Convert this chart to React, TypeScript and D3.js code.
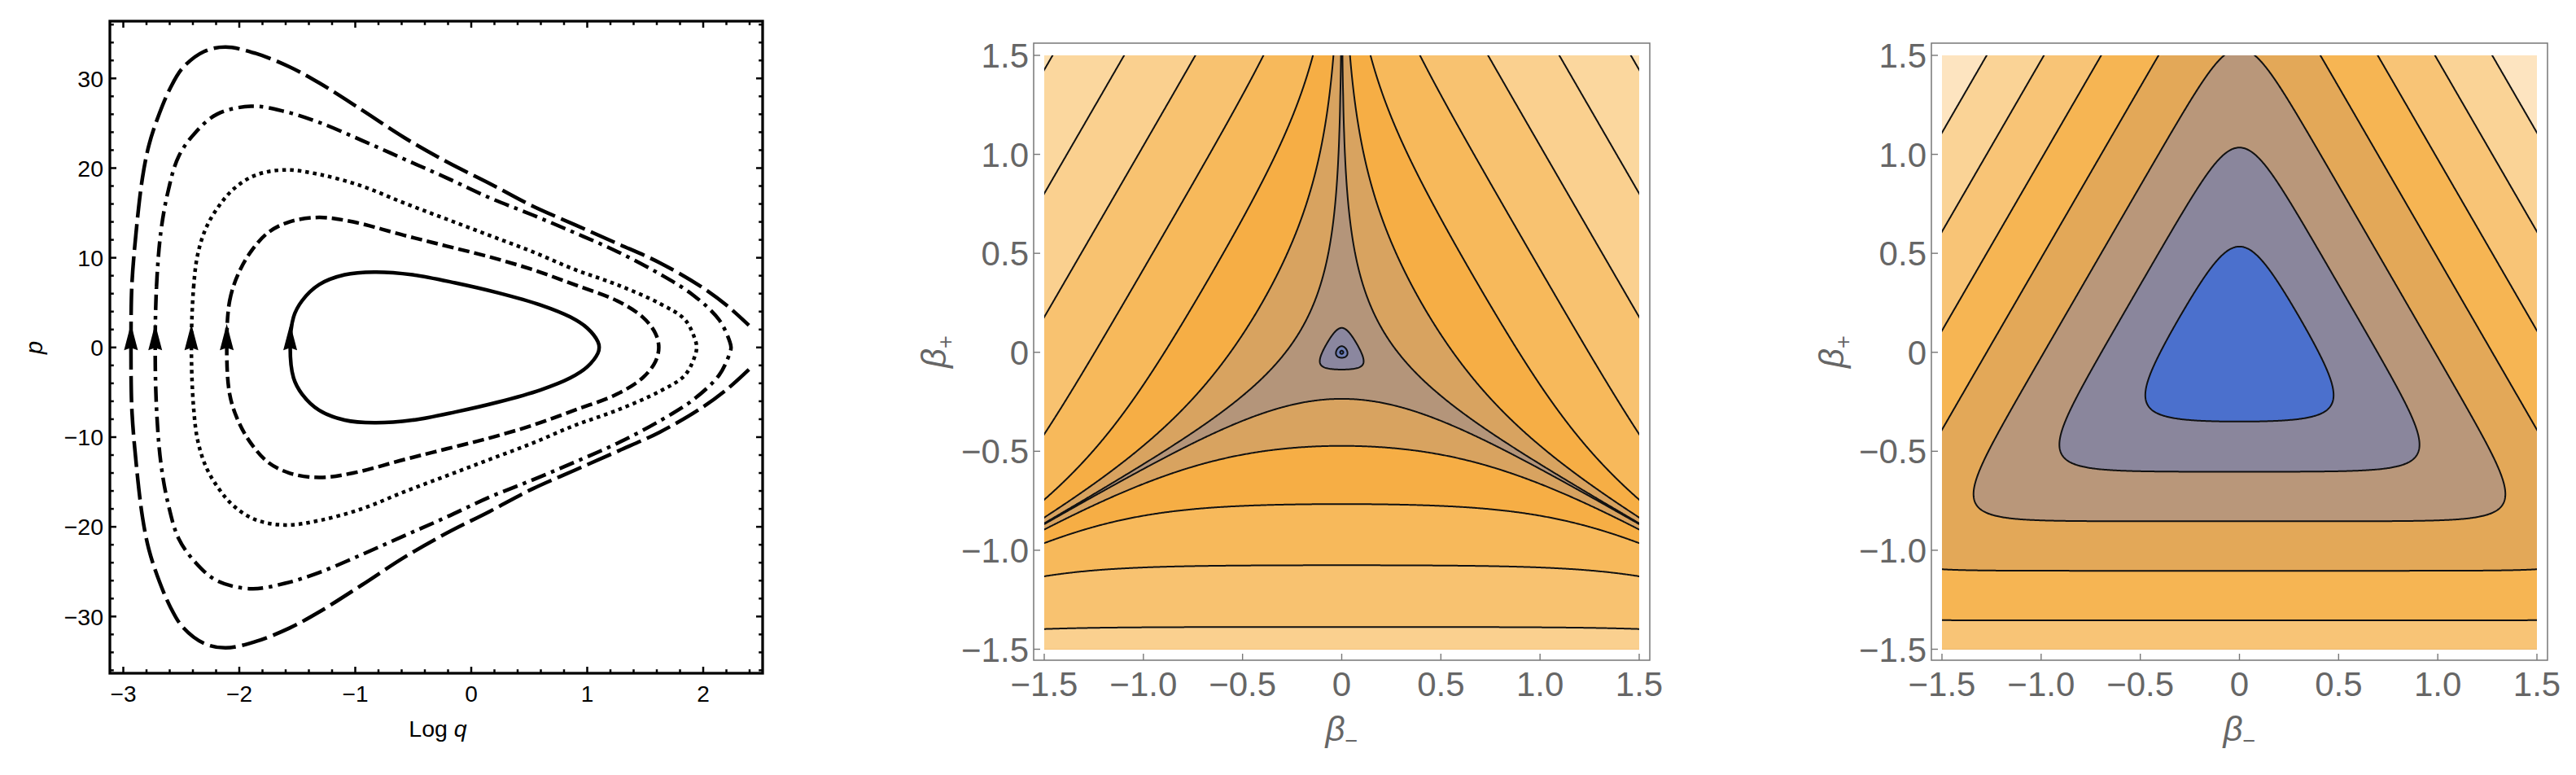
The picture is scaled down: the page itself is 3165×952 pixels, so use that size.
import React, { useMemo } from "react";
import * as d3 from "d3";

type Pt = [number, number];

// ---------- Panel 1: phase-space orbits (Log q, p) ----------
const longDashUpper: Pt[] = [
  [-2.934, 0], [-2.927, 6.7], [-2.89, 12.8], [-2.835, 18.9], [-2.78, 22.5], [-2.706, 25.5],
  [-2.596, 28.9], [-2.486, 31.2], [-2.303, 33.0], [-2.119, 33.5], [-1.862, 32.8], [-1.569, 31.3],
  [-1.312, 29.5], [-0.945, 26.5], [-0.578, 23.4], [-0.211, 20.7], [0.156, 18.3], [0.523, 15.8],
  [0.89, 13.7], [1.257, 11.6], [1.624, 9.45], [1.991, 6.7], [2.211, 4.6], [2.394, 2.46],
];
const longDashLower: Pt[] = [
  [2.394, -2.46], [2.211, -4.6], [1.991, -6.7], [1.624, -9.45], [1.257, -11.6], [0.89, -13.7],
  [0.523, -15.8], [0.156, -18.3], [-0.211, -20.7], [-0.578, -23.4], [-0.945, -26.5], [-1.312, -29.5],
  [-1.569, -31.3], [-1.862, -32.8], [-2.119, -33.5], [-2.303, -33.0], [-2.486, -31.2], [-2.596, -28.9],
  [-2.706, -25.5], [-2.78, -22.5], [-2.835, -18.9], [-2.89, -12.8], [-2.927, -6.7], [-2.934, 0],
];
const dotDashUpper: Pt[] = [
  [-2.725, 0], [-2.714, 6.7], [-2.677, 12.8], [-2.615, 17.35], [-2.523, 21.3], [-2.376, 24.0],
  [-2.193, 26.0], [-1.899, 26.9], [-1.606, 26.3], [-1.312, 25.1], [-0.945, 23.1], [-0.578, 21.0],
  [-0.211, 18.9], [0.156, 16.7], [0.523, 14.8], [0.89, 12.8], [1.257, 10.7], [1.624, 8.2],
  [1.917, 5.8], [2.138, 3.07], [2.229, 0.64], [2.24, 0],
];
const dotDashLower: Pt[] = [
  [2.229, -0.64], [2.138, -3.07], [1.917, -5.8], [1.624, -8.2], [1.257, -10.7], [0.89, -12.8],
  [0.523, -14.8], [0.156, -16.7], [-0.211, -18.9], [-0.578, -21.0], [-0.945, -23.1], [-1.312, -25.1],
  [-1.606, -26.3], [-1.899, -26.9], [-2.193, -26.0], [-2.376, -24.0], [-2.523, -21.3], [-2.615, -17.35],
  [-2.677, -12.8], [-2.714, -6.7],
];
const dottedUpper: Pt[] = [
  [-2.413, 0], [-2.394, 6.7], [-2.358, 10.4], [-2.284, 13.4], [-2.174, 15.8], [-2.046, 17.7],
  [-1.862, 19.2], [-1.606, 19.8], [-1.312, 19.3], [-0.945, 18.0], [-0.578, 16.1], [-0.211, 14.3],
  [0.156, 12.5], [0.523, 10.7], [0.89, 8.7], [1.257, 7.0], [1.624, 4.9], [1.844, 3.07],
  [1.936, 0.64], [1.943, 0],
];
const dottedLower: Pt[] = [
  [1.936, -0.64], [1.844, -3.07], [1.624, -4.9], [1.257, -7.0], [0.89, -8.7], [0.523, -10.7],
  [0.156, -12.5], [-0.211, -14.3], [-0.578, -16.1], [-0.945, -18.0], [-1.312, -19.3], [-1.606, -19.8],
  [-1.862, -19.2], [-2.046, -17.7], [-2.174, -15.8], [-2.284, -13.4], [-2.358, -10.4], [-2.394, -6.7],
];
const dashedUpper: Pt[] = [
  [-2.108, 0], [-2.083, 5.2], [-2.009, 8.2], [-1.899, 10.7], [-1.752, 12.8], [-1.569, 14.0],
  [-1.312, 14.5], [-1.018, 14.0], [-0.578, 12.5], [-0.211, 11.3], [0.156, 10.1], [0.523, 8.7],
  [0.89, 7.0], [1.257, 5.2], [1.477, 3.4], [1.587, 1.6], [1.617, 0],
];
const dashedLower: Pt[] = [
  [1.587, -1.6], [1.477, -3.4], [1.257, -5.2], [0.89, -7.0], [0.523, -8.7], [0.156, -10.1],
  [-0.211, -11.3], [-0.578, -12.5], [-1.018, -14.0], [-1.312, -14.5], [-1.569, -14.0], [-1.752, -12.8],
  [-1.899, -10.7], [-2.009, -8.2], [-2.083, -5.2],
];
const solidUpper: Pt[] = [
  [-1.561, 0], [-1.532, 3.4], [-1.459, 5.2], [-1.312, 7.0], [-1.092, 8.1], [-0.835, 8.4],
  [-0.505, 8.1], [-0.138, 7.2], [0.229, 6.1], [0.596, 4.74], [0.853, 3.4], [1.0, 2.16],
  [1.092, 0.64], [1.103, 0],
];
const solidLower: Pt[] = [
  [1.092, -0.64], [1.0, -2.16], [0.853, -3.4], [0.596, -4.74], [0.229, -6.1], [-0.138, -7.2],
  [-0.505, -8.1], [-0.835, -8.4], [-1.092, -8.1], [-1.312, -7.0], [-1.459, -5.2], [-1.532, -3.4],
];

const logQTicks = [-3, -2, -1, 0, 1, 2];
const pTicks = [-30, -20, -10, 0, 10, 20, 30];

// ---------- Panels 2 & 3: contour plots over (beta-, beta+) ----------
const betaTicks = [-1.5, -1, -0.5, 0, 0.5, 1, 1.5];
const betaTickLabels = ["\u22121.5", "\u22121.0", "\u22120.5", "0", "0.5", "1.0", "1.5"];

// contour levels of log(V + 3) (full potential) and log(V_walls)
const mixmasterLevels = [-6.4, -3.9, -1.4, 1.15, 3.6, 6.1, 8.6, 11.1, 13.6, 16.1];
const wallLevels = [2.83, 4.83, 6.83, 8.83, 10.83, 12.83, 14.83];

const mixmasterColors = [
  "#4c6fcb", "#6f7fb6", "#8b879f", "#b4957a", "#d8a360", "#f6ae45",
  "#f7b95b", "#f8c270", "#fad08f", "#fbd79e", "#fde0b1",
];
const wallColors = ["#4b70cd", "#8a869c", "#b9977a", "#e3a858", "#f6b553", "#f8c476", "#fad396", "#fde4c0"];

const SQ3 = Math.sqrt(3);
function mixmasterField(bm: number, bp: number) {
  const v =
    Math.exp(-8 * bp) -
    4 * Math.exp(-2 * bp) * Math.cosh(2 * SQ3 * bm) +
    2 * Math.exp(4 * bp) * (Math.cosh(4 * SQ3 * bm) - 1);
  return Math.log(Math.max(v + 3, 1e-30));
}
function wallField(bm: number, bp: number) {
  const v = Math.exp(-8 * bp) + 2 * Math.exp(4 * bp) * Math.cosh(4 * SQ3 * bm);
  return Math.log(v);
}

const FONT = "'Liberation Sans', Arial, Helvetica, sans-serif";
const minusFmt = (v: number) => (v < 0 ? "\u2212" + Math.abs(v) : String(v));

function PhasePanel() {
  const L = 135, R = 937, T = 26, B = 827;
  const x = d3.scaleLinear().domain([-3, 2]).range([151.5, 864]);
  const y = d3.scaleLinear().domain([-30, 30]).range([757.3, 96.3]);
  const lineOpen = d3.line<Pt>().x((d) => x(d[0])).y((d) => y(d[1])).curve(d3.curveCatmullRom.alpha(0.5));
  const lineClosed = d3.line<Pt>().x((d) => x(d[0])).y((d) => y(d[1])).curve(d3.curveCatmullRomClosed.alpha(0.5));

  const orbits = [
    { upper: longDashUpper, lower: longDashLower, dash: "32 8", open: true },
    { upper: dotDashUpper, lower: dotDashLower, dash: "19 7 4.5 7", open: false },
    { upper: dottedUpper, lower: dottedLower, dash: "4.5 5", open: false },
    { upper: dashedUpper, lower: dashedLower, dash: "14 6", open: false },
    { upper: solidUpper, lower: solidLower, dash: "none", open: false },
  ];

  const xMinor = d3.range(-15, 13).map((k) => k * 0.2).filter((v) => Math.abs(v - Math.round(v)) > 1e-6);
  const yMinor = d3.range(-18, 19).map((k) => k * 2).filter((v) => v % 10 !== 0);
  const tickW = 2.5;

  return (
    <g fontFamily={FONT}>
      {orbits.map((o, i) => {
        const paths = o.open
          ? [lineOpen(o.upper), lineOpen(o.lower)]
          : [lineClosed([...o.upper, ...o.lower])];
        return paths.map((d, j) => (
          <path key={`o${i}-${j}`} d={d || ""} fill="none" stroke="#000" strokeWidth={4.5}
            strokeDasharray={o.dash} strokeLinecap="butt" strokeLinejoin="round" />
        ));
      })}
      {orbits.map((o, i) => {
        const sx = x(o.upper[0][0]);
        const sy = y(o.upper[0][1]);
        return (
          <path key={`a${i}`} transform={`translate(${sx},${sy})`} d="M0,-29 L8.5,3.5 L0,0.5 L-8.5,3.5 Z" fill="#000" />
        );
      })}
      {logQTicks.map((v) => (
        <g key={`xt${v}`}>
          <line x1={x(v)} x2={x(v)} y1={B} y2={B - 8} stroke="#000" strokeWidth={tickW} />
          <line x1={x(v)} x2={x(v)} y1={T} y2={T + 8} stroke="#000" strokeWidth={tickW} />
          <text x={x(v)} y={862} textAnchor="middle" fontSize={28}>{minusFmt(v)}</text>
        </g>
      ))}
      {xMinor.map((v) => (
        <g key={`xm${v.toFixed(2)}`}>
          <line x1={x(v)} x2={x(v)} y1={B} y2={B - 4.8} stroke="#000" strokeWidth={tickW} />
          <line x1={x(v)} x2={x(v)} y1={T} y2={T + 4.8} stroke="#000" strokeWidth={tickW} />
        </g>
      ))}
      {pTicks.map((v) => (
        <g key={`yt${v}`}>
          <line x1={L} x2={L + 8} y1={y(v)} y2={y(v)} stroke="#000" strokeWidth={tickW} />
          <line x1={R} x2={R - 8} y1={y(v)} y2={y(v)} stroke="#000" strokeWidth={tickW} />
          <text x={127} y={y(v) + 10.2} textAnchor="end" fontSize={28.5}>{minusFmt(v)}</text>
        </g>
      ))}
      {yMinor.map((v) => (
        <g key={`ym${v}`}>
          <line x1={L} x2={L + 4.8} y1={y(v)} y2={y(v)} stroke="#000" strokeWidth={tickW} />
          <line x1={R} x2={R - 4.8} y1={y(v)} y2={y(v)} stroke="#000" strokeWidth={tickW} />
        </g>
      ))}
      <rect x={L} y={T} width={R - L} height={B - T} fill="none" stroke="#000" strokeWidth={3.3} />
      <text x={538} y={905} textAnchor="middle" fontSize={28.5}>
        Log <tspan fontStyle="italic">q</tspan>
      </text>
      <text transform="translate(52,427) rotate(-90)" textAnchor="middle" fontSize={29} fontStyle="italic">p</text>
    </g>
  );
}

type ContourProps = {
  left: number;
  field: (bm: number, bp: number) => number;
  levels: number[];
  colors: string[];
  clipId: string;
  yLabelX: number;
};

function ContourPanel({ left, field, levels, colors, clipId, yLabelX }: ContourProps) {
  const W = 731, top = 68, H = 729.5;
  const sx = d3.scaleLinear().domain([-1.5, 1.5]).range([left, left + W]);
  const sy = d3.scaleLinear().domain([-1.5, 1.5]).range([top + H, top]);

  const paths = useMemo(() => {
    const n = 640, ext = 1.56;
    const vals: number[] = new Array(n * n);
    for (let j = 0; j < n; j++) {
      const bp = ext - (2 * ext * (j + 0.5)) / n;
      for (let i = 0; i < n; i++) {
        const bm = -ext + (2 * ext * (i + 0.5)) / n;
        vals[j * n + i] = field(bm, bp);
      }
    }
    const cs = d3.contours().size([n, n]).thresholds(levels)(vals);
    const proj = d3.geoTransform({
      point: function (gx: number, gy: number) {
        // @ts-ignore
        this.stream.point(sx(-ext + (2 * ext * gx) / n), sy(ext - (2 * ext * gy) / n));
      },
    });
    const gp = d3.geoPath(proj);
    return cs.map((c) => gp(c as any) || "");
  }, [left]);

  const fL = left - 13, fR = left + W + 13, fT = 53, fB = 811;
  const gray = "#666";
  return (
    <g fontFamily={FONT}>
      <defs>
        <clipPath id={clipId}>
          <rect x={left} y={top} width={W} height={H} />
        </clipPath>
      </defs>
      <g clipPath={`url(#${clipId})`}>
        <rect x={left} y={top} width={W} height={H} fill={colors[0]} />
        {paths.map((d, k) => (
          <path key={`f${k}`} d={d} fill={colors[k + 1]} stroke="none" />
        ))}
        {paths.map((d, k) => (
          <path key={`l${k}`} d={d} fill="none" stroke="#111" strokeWidth={2} strokeLinejoin="round" />
        ))}
      </g>
      <rect x={fL} y={fT} width={fR - fL} height={fB - fT} fill="none" stroke="#777" strokeWidth={1.5} />
      {betaTicks.map((v, i) => (
        <g key={`bt${i}`}>
          <line x1={sx(v)} x2={sx(v)} y1={fB} y2={fB - 8} stroke="#777" strokeWidth={1.4} />
          <line x1={fL} x2={fL + 8} y1={sy(v)} y2={sy(v)} stroke="#777" strokeWidth={1.4} />
          <text x={sx(v)} y={855} textAnchor="middle" fontSize={42} fill={gray}>{betaTickLabels[i]}</text>
          <text x={left - 19} y={sy(v) + 15} textAnchor="end" fontSize={42} fill={gray}>{betaTickLabels[i]}</text>
        </g>
      ))}
      <text x={left + W / 2} y={910} textAnchor="middle" fontSize={42} fill={gray}>
        <tspan fontStyle="italic">β</tspan>
        <tspan fontSize={27} dy={9}>−</tspan>
      </text>
      <text transform={`translate(${yLabelX},432) rotate(-90)`} textAnchor="middle" fontSize={42} fill={gray}>
        <tspan fontStyle="italic">β</tspan>
        <tspan fontSize={27} dy={9}>+</tspan>
      </text>
    </g>
  );
}

export default function App() {
  return (
    <svg width={3165} height={952} style={{ position: "absolute", left: 0, top: 0, display: "block" }}>
      <rect x={0} y={0} width={3165} height={952} fill="#fff" />
      <PhasePanel />
      <ContourPanel left={1283} field={mixmasterField} levels={mixmasterLevels} colors={mixmasterColors} clipId="clipMix" yLabelX={1162} />
      <ContourPanel left={2386} field={wallField} levels={wallLevels} colors={wallColors} clipId="clipWall" yLabelX={2265} />
    </svg>
  );
}
